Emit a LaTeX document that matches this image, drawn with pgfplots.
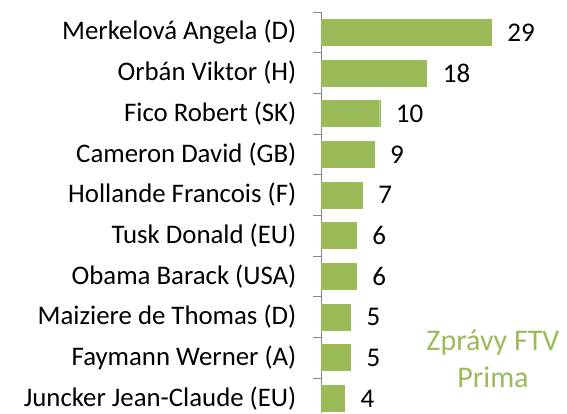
\documentclass[border=0pt]{standalone}
\usepackage{pgfplots}
\pgfplotsset{compat=1.18}
\usepackage{fontspec}
\setmainfont{Carlito}
\definecolor{barg}{HTML}{9BBB59}
\definecolor{axg}{HTML}{868686}
\begin{document}
\begin{tikzpicture}[x=1pt,y=1pt]
\useasboundingbox (0,0) rectangle (567,413);
\begin{axis}[
  at={(321pt,0pt)}, anchor=south west,
  scale only axis, width=246pt, height=401pt,
  xmin=0, xmax=41.9, ymin=-0.36, ymax=9.5,
  axis x line=none,
  axis y line*=left,
  axis line style={axg, line width=0.9pt},
  ytick={0,...,9},
  yticklabels={Juncker Jean-Claude (EU),Faymann Werner (A),Maiziere de Thomas (D),Obama Barack (USA),Tusk Donald (EU),Hollande Francois (F),Cameron David (GB),Fico Robert (SK),Orbán Viktor (H),Merkelová Angela (D)},
  major tick length=0pt,
  minor ytick={-0.5,0.5,...,9.5},
  minor tick length=8pt,
  tick align=outside,
  tick style={axg, line width=0.9pt},
  yticklabel style={font=\fontsize{26.8}{32}\selectfont, inner sep=0pt, xshift=-24.5pt, anchor=east},
  /pgf/number format/assume math mode=true,
  xbar, bar width=26pt,
  nodes near coords,
  nodes near coords style={/pgf/number format/assume math mode=true},
  every node near coord/.append style={font=\fontsize{27}{32}\selectfont, black, anchor=west, xshift=16pt, inner sep=0pt},
  clip=false,
]
\addplot[fill=barg, draw=barg] coordinates {(4,0) (5,1) (5,2) (6,3) (6,4) (7,5) (9,6) (10,7) (18,8) (29,9)};
\end{axis}
\node[text=barg, anchor=base, font=\fontsize{30}{37}\selectfont, inner sep=0pt] at (493,63) {Zprávy FTV};
\node[text=barg, anchor=base, font=\fontsize{30}{37}\selectfont, inner sep=0pt] at (493,26) {Prima};
\end{tikzpicture}
\end{document}
